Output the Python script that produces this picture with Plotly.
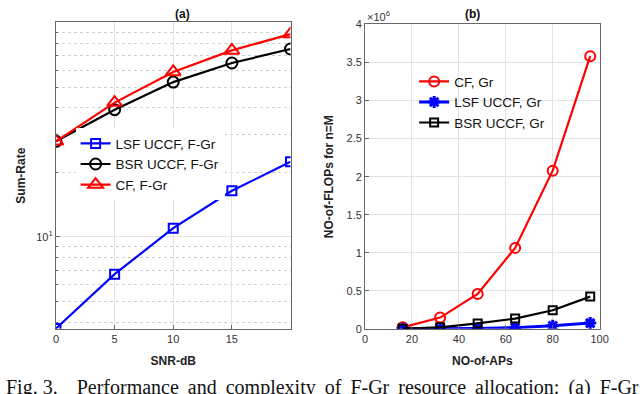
import plotly.graph_objects as go

# ---- data: panel (a) ----
snr_db = [0, 5, 10, 15, 20]
lsf_uccf_fgr = [3.74, 6.70, 10.98, 16.4, 22.4]
bsr_uccf_fgr = [27.9, 39.2, 52.7, 64.7, 75.2]
cf_fgr = [27.9, 42.3, 58.8, 74.1, 88.3]

# ---- data: panel (b) ----
num_aps = [16, 32, 48, 64, 80, 96]
cf_gr_flops = [0.02e6, 0.148e6, 0.458e6, 1.064e6, 2.078e6, 3.583e6]
lsf_uccf_gr_flops = [0.0005e6, 0.002e6, 0.006e6, 0.016e6, 0.040e6, 0.076e6]
bsr_uccf_gr_flops = [0.003e6, 0.02e6, 0.071e6, 0.135e6, 0.245e6, 0.424e6]

a_xticks = [0, 5, 10, 15]
a_minor_y = [4, 5, 6, 7, 8, 9, 20, 30, 40, 50, 60, 70, 80, 90]
b_xticks = [0, 20, 40, 60, 80, 100]
b_yticks = [0, 0.5e6, 1e6, 1.5e6, 2e6, 2.5e6, 3e6, 3.5e6, 4e6]
b_yticktext = ["0", "0.5", "1", "1.5", "2", "2.5", "3", "3.5", "4"]

W, H = 640, 394
FONT = "Liberation Sans, Arial, sans-serif"
AXC = "#666666"
TXT = "#333333"
GRID = "#e3e3e3"

fig = go.Figure()

# panel (a)
fig.add_trace(go.Scatter(x=snr_db, y=lsf_uccf_fgr, name="LSF UCCF, F-Gr", mode="lines+markers",
                         line=dict(color="#0000ff", width=2.2),
                         marker=dict(symbol="square-open", size=9, color="#0000ff", line=dict(width=2)),
                         xaxis="x", yaxis="y", legend="legend"))
fig.add_trace(go.Scatter(x=snr_db, y=bsr_uccf_fgr, name="BSR UCCF, F-Gr", mode="lines+markers",
                         line=dict(color="#000000", width=2.2),
                         marker=dict(symbol="circle-open", size=11, color="#000000", line=dict(width=2)),
                         xaxis="x", yaxis="y", legend="legend"))
fig.add_trace(go.Scatter(x=snr_db, y=cf_fgr, name="CF, F-Gr", mode="lines+markers",
                         line=dict(color="#ff0000", width=2.2),
                         marker=dict(symbol="triangle-up-open", size=13, color="#ff0000", line=dict(width=2)),
                         xaxis="x", yaxis="y", legend="legend"))

# panel (b)
fig.add_trace(go.Scatter(x=num_aps, y=cf_gr_flops, name="CF, Gr", mode="lines+markers",
                         line=dict(color="#ff0000", width=2.2),
                         marker=dict(symbol="circle-open", size=10, color="#ff0000", line=dict(width=2)),
                         xaxis="x2", yaxis="y2", legend="legend2"))
fig.add_trace(go.Scatter(x=num_aps, y=lsf_uccf_gr_flops, name="LSF UCCF, Gr", mode="lines+markers",
                         line=dict(color="#0000ff", width=3),
                         marker=dict(symbol="asterisk-open", size=10, color="#0000ff", line=dict(width=3, color="#0000ff")),
                         xaxis="x2", yaxis="y2", legend="legend2"))
fig.add_trace(go.Scatter(x=num_aps, y=bsr_uccf_gr_flops, name="BSR UCCF, Gr", mode="lines+markers",
                         line=dict(color="#000000", width=2.2),
                         marker=dict(symbol="square-open", size=8, color="#000000", line=dict(width=2)),
                         xaxis="x2", yaxis="y2", legend="legend2"))

common = dict(showline=True, mirror=True, linecolor=AXC, linewidth=1, ticks="inside", ticklen=4,
              tickcolor=AXC, tickfont=dict(family=FONT, size=11, color=TXT), zeroline=False,
              gridcolor=GRID, gridwidth=1, showgrid=True)

fig.update_layout(
    width=W, height=H, margin=dict(l=0, r=0, t=0, b=0),
    paper_bgcolor="white", plot_bgcolor="white",
    font=dict(family=FONT, color=TXT),
    xaxis=dict(domain=[54/W, 293/W], range=[0, 20], tickmode="array", tickvals=a_xticks,
               title=dict(text="<b>SNR-dB</b>", font=dict(size=12, color="#222"), standoff=12), **common),
    yaxis=dict(domain=[1-333/H, 1-17/H], type="log", range=[0.571, 2.0], tickmode="array",
               tickvals=[10], ticktext=["10<sup>1</sup>"],
               minor=dict(tickmode="array", tickvals=a_minor_y, showgrid=True, griddash="dot",
                          gridcolor="#cfcfcf", ticks="inside", ticklen=2, tickcolor=AXC),
               title=dict(text="<b>Sum-Rate</b>", font=dict(size=12, color="#222"), standoff=8), **common),
    xaxis2=dict(domain=[369/W, 608/W], range=[0, 100], tickmode="array", tickvals=b_xticks,
                title=dict(text="<b>NO-of-APs</b>", font=dict(size=12, color="#222"), standoff=12), **common),
    yaxis2=dict(domain=[1-333/H, 1-19/H], range=[0, 4e6], tickmode="array", tickvals=b_yticks,
                ticktext=b_yticktext, anchor="x2",
                title=dict(text="<b>NO-of-FLOPs for n=M</b>", font=dict(size=12, color="#222"), standoff=10), **common),
    legend=dict(x=74/W, y=1-126/H, xanchor="left", yanchor="top", bgcolor="white", borderwidth=0,
                font=dict(family=FONT, size=13.5, color="#111"), tracegroupgap=0),
    legend2=dict(x=419/W, y=1-62/H, xanchor="left", yanchor="top", bgcolor="rgba(255,255,255,0)", borderwidth=0,
                 font=dict(family=FONT, size=13.5, color="#111"), tracegroupgap=0),
    showlegend=True,
)
fig.update_layout(xaxis2_anchor="y2")

fig.add_annotation(text="<b>(a)</b>", x=(54+293)/2/W, y=1-8/H, xref="paper", yref="paper", yanchor="middle",
                   showarrow=False, font=dict(family=FONT, size=12, color="#111"))
fig.add_annotation(text="<b>(b)</b>", x=(369+608)/2/W, y=1-8/H, xref="paper", yref="paper", yanchor="middle",
                   showarrow=False, font=dict(family=FONT, size=12, color="#111"))
fig.add_annotation(text="×10<sup>6</sup>", x=369/W, y=1-10/H, xref="paper", yref="paper", yanchor="middle",
                   xanchor="left", showarrow=False, font=dict(family=FONT, size=11, color=TXT))
g = "\u00a0\u2009"
caption = ("Fig." + "\u00a0" + "3." + "\u00a0" * 3 + "\u2009" + "Performance" + g + "and" + g + "complexity" + g +
           "of" + g + "F-Gr" + g + "resource" + g + "allocation:" + g + "(a)" + g +
           "F-Gr" + g + "sum-rate")
fig.add_annotation(text=caption,
                   x=1/W, y=1-380/H, xref="paper", yref="paper", xanchor="left", yanchor="top",
                   showarrow=False, font=dict(family="Liberation Serif, Times New Roman, serif", size=20, color="#111"))

fig.write_html("out.html", config={"displayModeBar": False},
               post_script="document.body.style.margin='0';document.body.style.padding='0';")
